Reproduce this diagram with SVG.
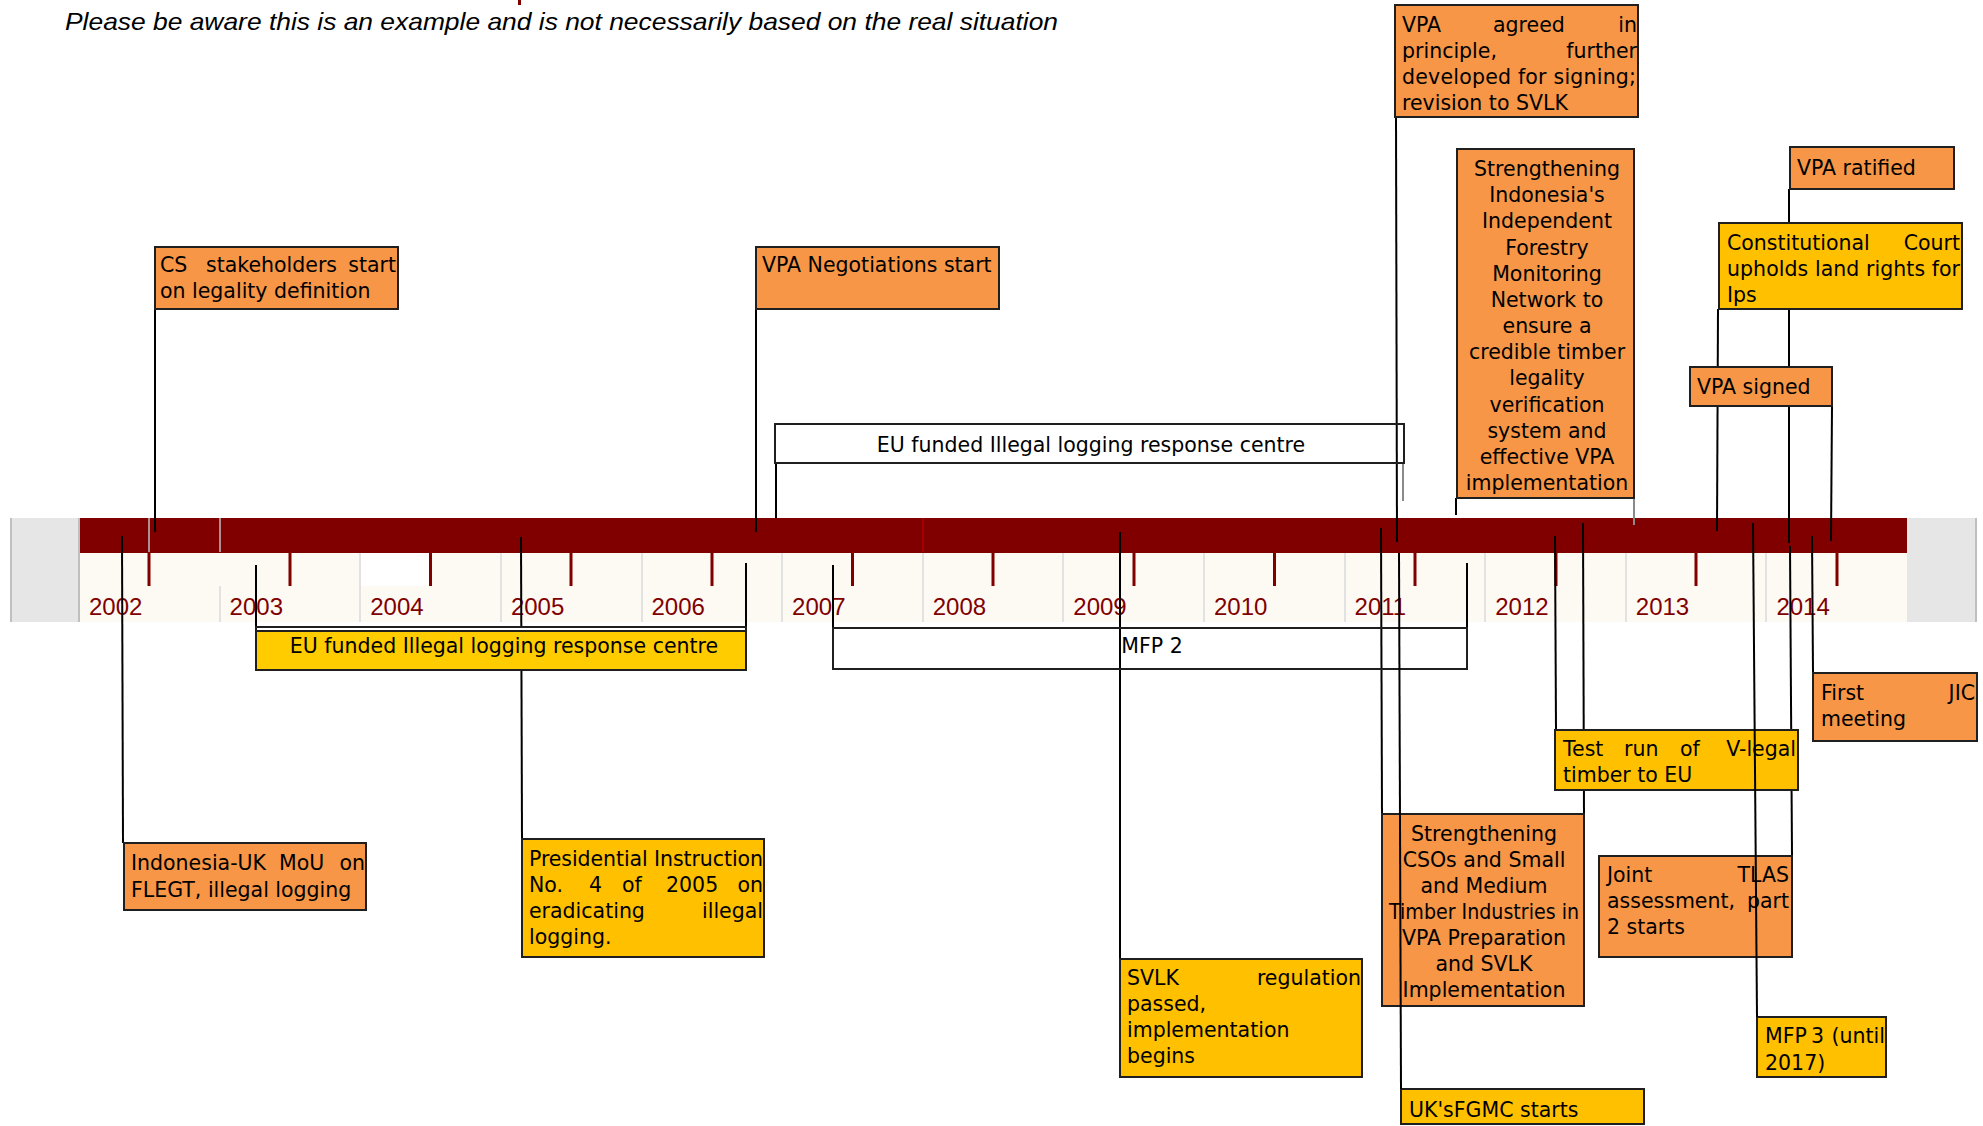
<svg xmlns="http://www.w3.org/2000/svg" width="1983" height="1126" viewBox="0 0 1983 1126">
<style>
.box{stroke:#1f1f1f;stroke-width:2}
.or{fill:#F79646}
.ye{fill:#FFC000}
.ye2{fill:#FFCC00}
.wh{fill:none}
.t{font-family:"DejaVu Sans",sans-serif;font-size:20.5px;fill:#000}
.c{text-anchor:middle}
.e{text-anchor:end}
.ln{stroke:#000;stroke-width:2;fill:none}
.gl{stroke:#8a8a8a;stroke-width:2;fill:none}
.yr{font-family:"Liberation Sans",Arial,sans-serif;font-size:24px;fill:#800000}
.tk{stroke:#800000;stroke-width:3}
.dv{stroke:#e2e2e2;stroke-width:2}
</style>
<rect width="1983" height="1126" fill="#fff"/>
<rect x="518" y="0" width="3" height="5" fill="#800000"/>
<text x="65" y="30" font-family="'Liberation Sans',Arial,sans-serif" font-style="italic" font-size="24" textLength="993" lengthAdjust="spacingAndGlyphs" fill="#000">Please be aware this is an example and is not necessarily based on the real situation</text>

<g id="timeline">
<rect x="10" y="518" width="69" height="104" fill="#e6e6e6"/>
<rect x="1907" y="518" width="69" height="104" fill="#e6e6e6"/>
<line x1="11" y1="518" x2="11" y2="622" stroke="#bfbfbf" stroke-width="2"/>
<line x1="1976" y1="518" x2="1976" y2="622" stroke="#bfbfbf" stroke-width="2"/>
<rect x="79" y="553" width="1828" height="69" fill="#fdfaf3"/>
<rect x="361" y="553" width="70" height="33" fill="#fff"/>
<rect x="79" y="518" width="1828" height="35" fill="#800000"/>
<line x1="79" y1="518" x2="79" y2="622" stroke="#bfbfbf" stroke-width="2"/>
<line x1="149" y1="518" x2="149" y2="552" stroke="#bfbfbf" stroke-width="1.5"/>
<line x1="220" y1="518" x2="220" y2="552" stroke="#bfbfbf" stroke-width="1.5"/>
<line x1="923" y1="518" x2="923" y2="552" stroke="#b00000" stroke-width="1.5"/>
<g class="dv">
<line x1="220" y1="586" x2="220" y2="622"/>
<line x1="360" y1="553" x2="360" y2="622"/>
<line x1="501" y1="553" x2="501" y2="622"/>
<line x1="642" y1="553" x2="642" y2="622"/>
<line x1="782" y1="553" x2="782" y2="622"/>
<line x1="923" y1="553" x2="923" y2="622"/>
<line x1="1063" y1="553" x2="1063" y2="622"/>
<line x1="1204" y1="553" x2="1204" y2="622"/>
<line x1="1345" y1="553" x2="1345" y2="622"/>
<line x1="1485" y1="553" x2="1485" y2="622"/>
<line x1="1626" y1="553" x2="1626" y2="622"/>
<line x1="1766" y1="553" x2="1766" y2="622"/>
</g>
<g class="tk">
<line x1="149" y1="553" x2="149" y2="586"/>
<line x1="290" y1="553" x2="290" y2="586"/>
<line x1="430.5" y1="553" x2="430.5" y2="586"/>
<line x1="571" y1="553" x2="571" y2="586"/>
<line x1="712" y1="553" x2="712" y2="586"/>
<line x1="852.5" y1="553" x2="852.5" y2="586"/>
<line x1="993" y1="553" x2="993" y2="586"/>
<line x1="1134" y1="553" x2="1134" y2="586"/>
<line x1="1274.5" y1="553" x2="1274.5" y2="586"/>
<line x1="1415" y1="553" x2="1415" y2="586"/>
<line x1="1556" y1="553" x2="1556" y2="586"/>
<line x1="1696" y1="553" x2="1696" y2="586"/>
<line x1="1837" y1="553" x2="1837" y2="586"/>
</g>
<text class="yr" x="89" y="615">2002</text>
<text class="yr" x="229.6" y="615">2003</text>
<text class="yr" x="370.2" y="615">2004</text>
<text class="yr" x="510.9" y="615">2005</text>
<text class="yr" x="651.5" y="615">2006</text>
<text class="yr" x="792.1" y="615">2007</text>
<text class="yr" x="932.7" y="615">2008</text>
<text class="yr" x="1073.3" y="615">2009</text>
<text class="yr" x="1214" y="615">2010</text>
<text class="yr" x="1354.6" y="615">2011</text>
<text class="yr" x="1495.2" y="615">2012</text>
<text class="yr" x="1635.8" y="615">2013</text>
<text class="yr" x="1776.4" y="615">2014</text>
</g>

<g id="connectors">
<line class="ln" x1="155" y1="309" x2="155" y2="532"/>
<line class="ln" x1="756" y1="309" x2="756" y2="532"/>
<line class="ln" x1="776" y1="463" x2="776" y2="518"/>
<line class="gl" x1="1403" y1="463" x2="1403" y2="501"/>
<line class="ln" x1="1396" y1="117" x2="1397" y2="542"/>
<line class="ln" x1="1456" y1="498" x2="1456" y2="515"/>
<line class="gl" x1="1634" y1="498" x2="1634" y2="525"/>
<line class="ln" x1="1789" y1="189" x2="1789" y2="543"/>
<line class="ln" x1="1718" y1="309" x2="1717" y2="531"/>
<line class="ln" x1="1832" y1="406" x2="1831" y2="541"/>
<line class="ln" x1="122" y1="536" x2="123" y2="843"/>
<line class="ln" x1="521" y1="537" x2="522" y2="839"/>
<line class="ln" x1="1120" y1="532" x2="1120" y2="959"/>
<line class="ln" x1="1381" y1="528" x2="1382" y2="814"/>
<line class="ln" x1="1555" y1="536" x2="1556" y2="730"/>
<line class="ln" x1="1583" y1="523" x2="1584" y2="814"/>
<line class="ln" x1="1790" y1="546" x2="1792" y2="856"/>
<line class="ln" x1="1812" y1="536" x2="1813" y2="673"/>
</g>

<g id="n-cs">
<rect class="box or" x="155" y="247" width="243" height="62"/>
<text class="t" y="272"><tspan x="160">CS</tspan><tspan x="206">stakeholders</tspan><tspan x="396" class="e">start</tspan></text>
<text class="t" x="160" y="298">on legality definition</text>
</g>
<g id="n-vpaneg">
<rect class="box or" x="756" y="247" width="243" height="62"/>
<text class="t" x="762" y="272">VPA Negotiations start</text>
</g>
<g id="n-eu-top">
<rect class="box wh" x="775" y="424" width="629" height="39"/>
<text class="t c" x="1091" y="452">EU funded Illegal logging response centre</text>
</g>
<g id="n-vpa-agreed">
<rect class="box or" x="1395" y="5" width="243" height="112"/>
<text class="t" y="32"><tspan x="1402">VPA</tspan><tspan x="1493">agreed</tspan><tspan x="1637" class="e">in</tspan></text>
<text class="t" y="58"><tspan x="1402">principle,</tspan><tspan x="1637" class="e">further</tspan></text>
<text class="t" x="1402" y="84" textLength="234" lengthAdjust="spacing">developed for signing;</text>
<text class="t" x="1402" y="110">revision to SVLK</text>
</g>
<g id="n-ifm">
<rect class="box or" x="1457" y="149" width="177" height="349"/>
<text class="t c" x="1547" y="176">Strengthening</text>
<text class="t c" x="1547" y="202.2">Indonesia's</text>
<text class="t c" x="1547" y="228.3">Independent</text>
<text class="t c" x="1547" y="254.5">Forestry</text>
<text class="t c" x="1547" y="280.7">Monitoring</text>
<text class="t c" x="1547" y="306.9">Network to</text>
<text class="t c" x="1547" y="333">ensure a</text>
<text class="t c" x="1547" y="359.2">credible timber</text>
<text class="t c" x="1547" y="385.4">legality</text>
<text class="t c" x="1547" y="411.5">verification</text>
<text class="t c" x="1547" y="437.7">system and</text>
<text class="t c" x="1547" y="463.9">effective VPA</text>
<text class="t c" x="1547" y="490">implementation</text>
</g>
<g id="n-ratified">
<rect class="box or" x="1790" y="147" width="164" height="42"/>
<text class="t" x="1797" y="175">VPA ratified</text>
</g>
<g id="n-court">
<rect class="box ye" x="1719" y="223" width="243" height="86"/>
<text class="t" y="250"><tspan x="1727">Constitutional</tspan><tspan x="1960" class="e">Court</tspan></text>
<text class="t" x="1727" y="276" textLength="233" lengthAdjust="spacing">upholds land rights for</text>
<text class="t" x="1727" y="302">Ips</text>
</g>
<g id="n-signed">
<rect class="box or" x="1690" y="367" width="142" height="39"/>
<text class="t" x="1697" y="394">VPA signed</text>
</g>
<g id="n-mou">
<rect class="box or" x="124" y="843" width="242" height="67"/>
<text class="t" y="870"><tspan x="131">Indonesia-UK</tspan><tspan x="279">MoU</tspan><tspan x="365" class="e">on</tspan></text>
<text class="t" x="131" y="897">FLEGT, illegal logging</text>
</g>
<g id="n-eu-bottom">
<line class="ln" x1="256" y1="565" x2="256" y2="627"/>
<line class="ln" x1="746" y1="563" x2="746" y2="627"/>
<rect class="box" fill="#fff" x="256" y="627" width="490" height="43"/>
<rect class="box ye2" x="256" y="631" width="490" height="39"/>
<text class="t c" x="504" y="653">EU funded Illegal logging response centre</text>
</g>
<g id="n-presidential">
<rect class="box ye" x="522" y="839" width="242" height="118"/>
<text class="t" y="866" textLength="234" lengthAdjust="spacing">
<tspan x="529">Presidential Instruction</tspan></text>
<text class="t" y="892"><tspan x="529">No.</tspan><tspan x="589">4</tspan><tspan x="622">of</tspan><tspan x="666">2005</tspan><tspan x="763" class="e">on</tspan></text>
<text class="t" y="918"><tspan x="529">eradicating</tspan><tspan x="763" class="e">illegal</tspan></text>
<text class="t" x="529" y="944">logging.</text>
</g>
<g id="n-mfp2">
<line class="ln" x1="833" y1="565" x2="833" y2="628"/>
<line class="ln" x1="1467" y1="563" x2="1467" y2="628"/>
<rect class="box wh" x="833" y="628" width="634" height="41"/>
<text class="t c" x="1152" y="653">MFP 2</text>
</g>
<g id="n-svlk">
<rect class="box ye" x="1120" y="959" width="242" height="118"/>
<text class="t" y="985"><tspan x="1127">SVLK</tspan><tspan x="1361" class="e">regulation</tspan></text>
<text class="t" x="1127" y="1011">passed,</text>
<text class="t" x="1127" y="1037">implementation</text>
<text class="t" x="1127" y="1063">begins</text>
</g>
<g id="n-csos">
<rect class="box or" x="1382" y="814" width="202" height="192"/>
<text class="t c" x="1484" y="841">Strengthening</text>
<text class="t c" x="1484" y="867">CSOs and Small</text>
<text class="t c" x="1484" y="893">and Medium</text>
<text class="t c" x="1484" y="919" textLength="190" lengthAdjust="spacingAndGlyphs">Timber Industries in</text>
<text class="t c" x="1484" y="945">VPA Preparation</text>
<text class="t c" x="1484" y="971">and SVLK</text>
<text class="t c" x="1484" y="997">Implementation</text>
</g>
<g id="n-fgmc">
<rect class="box ye" x="1401" y="1089" width="243" height="35"/>
<text class="t" x="1409" y="1117">UK'sFGMC starts</text>
</g>
<g id="n-testrun">
<rect class="box ye" x="1555" y="730" width="243" height="60"/>
<text class="t" y="756"><tspan x="1563">Test</tspan><tspan x="1624">run</tspan><tspan x="1680">of</tspan><tspan x="1796" class="e">V-legal</tspan></text>
<text class="t" x="1563" y="782">timber to EU</text>
</g>
<g id="n-tlas">
<rect class="box or" x="1599" y="856" width="193" height="101"/>
<text class="t" y="882"><tspan x="1607">Joint</tspan><tspan x="1789" class="e">TLAS</tspan></text>
<text class="t" y="908"><tspan x="1607">assessment,</tspan><tspan x="1789" class="e">part</tspan></text>
<text class="t" x="1607" y="934">2 starts</text>
</g>
<g id="n-jic">
<rect class="box or" x="1813" y="673" width="164" height="68"/>
<text class="t" y="700"><tspan x="1821">First</tspan><tspan x="1975" class="e">JIC</tspan></text>
<text class="t" x="1821" y="726">meeting</text>
</g>
<g id="n-mfp3">
<rect class="box ye" x="1757" y="1017" width="129" height="60"/>
<text class="t" y="1043"><tspan x="1765">MFP</tspan><tspan x="1811">3</tspan><tspan x="1885" class="e">(until</tspan></text>
<text class="t" x="1765" y="1070">2017)</text>
</g>

<g id="connectors-front">
<line class="ln" x1="1399" y1="553" x2="1401" y2="1089"/>
<line class="ln" x1="1753" y1="523" x2="1757" y2="1017"/>
</g>
</svg>
